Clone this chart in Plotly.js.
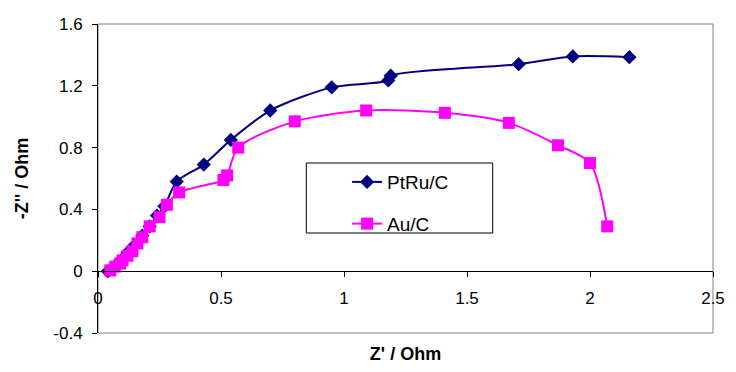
<!DOCTYPE html>
<html>
<head>
<meta charset="utf-8">
<script src="https://cdn.plot.ly/plotly-3.0.1.min.js"></script>
<style>html,body{margin:0;padding:0;background:#fff;}#chart{width:736px;height:372px;}</style>
</head>
<body>
<div id="chart"></div>
<script>
// PtRu/C series
const ptruX = [0.04, 0.06, 0.08, 0.10, 0.12, 0.15, 0.18, 0.21, 0.24, 0.27, 0.32, 0.43, 0.54, 0.70, 0.95, 1.18, 1.19, 1.71, 1.93, 2.16];
const ptruY = [0.00, 0.02, 0.05, 0.08, 0.12, 0.17, 0.23, 0.29, 0.36, 0.42, 0.58, 0.69, 0.85, 1.04, 1.19, 1.235, 1.265, 1.34, 1.39, 1.385];
// Au/C series
const auX = [0.05, 0.07, 0.09, 0.10, 0.12, 0.14, 0.16, 0.18, 0.21, 0.25, 0.28, 0.33, 0.51, 0.525, 0.57, 0.80, 1.09, 1.41, 1.67, 1.87, 2.00, 2.07];
const auY = [0.005, 0.03, 0.05, 0.07, 0.10, 0.13, 0.18, 0.22, 0.29, 0.35, 0.43, 0.51, 0.59, 0.62, 0.80, 0.97, 1.04, 1.025, 0.96, 0.815, 0.70, 0.29];
// Ticks
const xTickVals = [0, 0.5, 1, 1.5, 2, 2.5];
const xTickText = ['0', '0.5', '1', '1.5', '2', '2.5'];
const yTickVals = [-0.4, 0, 0.4, 0.8, 1.2, 1.6];
const yTickText = ['-0.4', '0', '0.4', '0.8', '1.2', '1.6'];
const seriesNames = ['PtRu/C', 'Au/C'];

const font = 'Liberation Sans, Arial, sans-serif';
const traces = [
  {x: ptruX, y: ptruY, name: seriesNames[0], type: 'scatter', mode: 'lines+markers',
   legendgroup: 'a',
   line: {color: '#000080', width: 2, shape: 'spline', smoothing: 0.8},
   marker: {symbol: 'diamond', size: 11, color: '#000080'}},
  {x: auX, y: auY, name: seriesNames[1], type: 'scatter', mode: 'lines+markers',
   legendgroup: 'b',
   line: {color: '#FF00FF', width: 2, shape: 'spline', smoothing: 0.8},
   marker: {symbol: 'square', size: 12, color: '#FF00FF'}}
];
const layout = {
  width: 736, height: 372,
  margin: {l: 98, r: 23, t: 24, b: 39},
  paper_bgcolor: '#fff', plot_bgcolor: '#fff',
  font: {family: font, color: '#000', size: 17},
  showlegend: true,
  legend: {x: 0.405, y: 0.55, xanchor: 'left', yanchor: 'top', bgcolor: 'rgba(0,0,0,0)',
    borderwidth: 0, font: {family: font, size: 19, color: '#000'},
    traceorder: 'grouped', tracegroupgap: 14},
  xaxis: {range: [0, 2.5], tickvals: xTickVals, ticktext: xTickText,
    anchor: 'free', position: 0.2, showline: true, linecolor: '#000', linewidth: 1,
    ticks: 'outside', ticklen: 5, tickcolor: '#000', showgrid: false, zeroline: false,
    ticklabelstandoff: 6,
    tickfont: {family: font, size: 17, color: '#000'},
    title: {text: "Z' / Ohm", standoff: 40, font: {family: font, size: 18, color: '#000', weight: 'bold'}}},
  yaxis: {range: [-0.4, 1.6], tickvals: yTickVals, ticktext: yTickText,
    showline: true, linecolor: '#000', linewidth: 1,
    ticks: 'outside', ticklen: 5, tickcolor: '#000', showgrid: false, zeroline: false,
    ticklabelstandoff: 6,
    tickfont: {family: font, size: 17, color: '#000'},
    title: {text: "-Z'' / Ohm", standoff: 20, font: {family: font, size: 18, color: '#000', weight: 'bold'}}},
  shapes: [
    {type: 'rect', xref: 'paper', yref: 'paper', x0: 0, x1: 1, y0: 0, y1: 1,
     line: {color: '#808080', width: 1}, layer: 'below'},
    {type: 'rect', xref: 'paper', yref: 'paper', x0: 0.3387, x1: 0.6418, y0: 0.3236, y1: 0.5502,
     line: {color: '#000', width: 1}, fillcolor: '#fff', layer: 'below'}
  ]
};
Plotly.newPlot('chart', traces, layout, {displayModeBar: false, staticPlot: true});
</script>
</body>
</html>
